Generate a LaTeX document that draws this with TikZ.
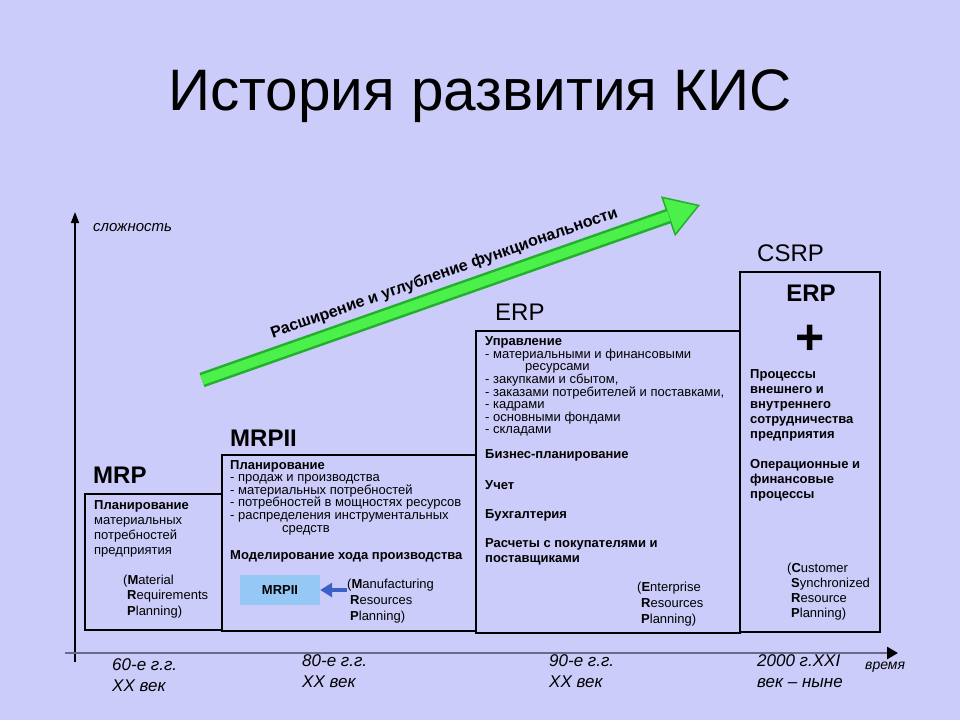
\documentclass[tikz,border=0pt]{standalone}
\usepackage{fontspec}
\setmainfont{Liberation Sans}
\usetikzlibrary{arrows.meta,calc}
\definecolor{slidebg}{RGB}{204,204,250}
\definecolor{axisgray}{RGB}{105,105,140}
\definecolor{growdark}{RGB}{35,175,45}
\definecolor{growlight}{RGB}{75,240,75}
\definecolor{tagblue}{RGB}{150,200,245}
\definecolor{pointblue}{RGB}{60,95,200}
\tikzset{
  era/.style={draw=black, line width=1.6pt},
  eratitle/.style={anchor=west, inner sep=0pt, font=\fontsize{24}{28}\selectfont},
  boxtext/.style={anchor=north west, inner sep=0pt, align=left},
  period/.style={anchor=north west, inner sep=0pt, align=left, font=\fontsize{17}{21}\selectfont\itshape},
}
\begin{document}
\begin{tikzpicture}[x=1pt,y=-1pt]
		%%%%% START %%%%%
		
		\fill[slidebg] (0,0) rectangle (960,720);
		\useasboundingbox (0,0) rectangle (960,720);
		
		\node[font=\fontsize{58.5}{62}\selectfont] (title) at (480,96) {История развития КИС};
		
		% axes
		\coordinate (ytop) at (75,212);
		\coordinate (ybot) at (75,662);
		\coordinate (xbeg) at (65,653);
		\coordinate (xend) at (898,653);
		\draw[line width=1.4pt, -{Triangle[length=11pt,width=8pt]}] (ybot) -- (ytop);
		\draw[axisgray, line width=2.6pt, -{Triangle[length=11pt,width=12pt,color=black]}] (xbeg) -- (xend);
		\node[anchor=west, inner sep=0pt, font=\fontsize{15}{17}\selectfont\itshape] (ylabel) at (93,228) {сложность};
		\node[anchor=west, inner sep=0pt, font=\fontsize{14}{16}\selectfont\itshape] (xlabel) at (865,667) {время};
		
		% green arrow
		\coordinate (growstart) at (202,380);
		\coordinate (growend) at (700,205);
		\draw[growdark, line width=15pt, -{Triangle[length=34pt,width=42pt,fill=growlight,line width=1.5pt]}] (growstart) -- (growend);
		\draw[growlight, line width=10pt, shorten >=33pt] (growstart) -- (growend);
		\path (growstart) -- (growend) node[pos=0.5, sloped, above=9pt, font=\fontsize{16}{18}\selectfont\bfseries] (growlabel) {Расширение и углубление функциональности};
		
		% boxes
		\draw[era] (85,494) rectangle (222,630);
		\draw[era] (222,455) rectangle (476,631);
		\draw[era] (476,331) rectangle (740,633);
		\draw[era] (740,272) rectangle (880,632);
		
		\node[eratitle, font=\fontsize{24}{28}\selectfont\bfseries] (mrp) at (93,475) {MRP};
		\node[eratitle, font=\fontsize{24}{28}\selectfont\bfseries] (mrpii) at (230,438) {MRPII};
		\node[eratitle] (erp) at (495,312) {ERP};
		\node[eratitle] (csrp) at (757,253) {CSRP};
		
		% MRP
		\node[boxtext, font=\fontsize{13}{15}\selectfont] (mrptext) at (94,500.5) {\textbf{Планирование}\\материальных\\потребностей\\предприятия};
		\node[boxtext, font=\fontsize{13}{15.5}\selectfont] (mrpeng) at (123,574.5) {(\textbf{M}aterial\\\hspace*{4pt}\textbf{R}equirements\\\hspace*{4pt}\textbf{P}lanning)};
		
		% MRPII
		\node[boxtext, font=\fontsize{13}{12.6}\selectfont] (mrpiitext) at (230,460) {\textbf{Планирование}\\- продаж и производства\\- материальных потребностей\\- потребностей в мощностях ресурсов\\- распределения инструментальных\\\hspace*{52pt}средств};
		\node[boxtext, font=\fontsize{13}{14}\selectfont\bfseries] (model) at (230,550) {Моделирование хода производства};
		\node[fill=tagblue, minimum width=80pt, minimum height=30pt, font=\fontsize{13}{15}\selectfont\bfseries] (mrpiitag) at (280,590) {MRPII};
		\node[boxtext, font=\fontsize{13}{16}\selectfont] (manuf) at (347,579) {(\textbf{M}anufacturing\\\hspace*{3pt}\textbf{R}esources\\\hspace*{3pt}\textbf{P}lanning)};
		\draw[pointblue, line width=4pt, -{Triangle[length=12pt,width=14pt]}] (manuf.west |- mrpiitag.east) -- (mrpiitag.east);
		
		% ERP
		\node[boxtext, font=\fontsize{13}{12}\selectfont] (erptext) at (485,336) {\textbf{Управление}\\- материальными и финансовыми\\\hspace*{40pt}ресурсами\\- закупками и сбытом,\\- заказами потребителей и поставками,\\- кадрами\\- основными фондами\\- складами};
		\node[boxtext, font=\fontsize{13}{15}\selectfont\bfseries] (bizplan) at (485,449) {Бизнес-планирование};
		\node[boxtext, font=\fontsize{13}{15}\selectfont\bfseries] (uchet) at (485,480) {Учет};
		\node[boxtext, font=\fontsize{13}{15}\selectfont\bfseries] (buh) at (485,509) {Бухгалтерия};
		\node[boxtext, font=\fontsize{13}{15}\selectfont\bfseries] (rasch) at (485,538) {Расчеты с покупателями и\\поставщиками};
		\node[boxtext, font=\fontsize{13}{16}\selectfont] (erpeng) at (637,582) {(\textbf{E}nterprise\\\hspace*{4pt}\textbf{R}esources\\\hspace*{4pt}\textbf{P}lanning)};
		
		% CSRP
		\node[inner sep=0pt, font=\fontsize{24}{28}\selectfont\bfseries] (erpinner) at (811,293) {ERP};
		\node[inner sep=0pt, font=\fontsize{50}{50}\selectfont\bfseries] (plus) at (810,340) {+};
		\node[boxtext, font=\fontsize{13}{15}\selectfont\bfseries] (csrptext) at (750,369) {Процессы\\внешнего и\\внутреннего\\сотрудничества\\предприятия};
		\node[boxtext, font=\fontsize{13}{15}\selectfont\bfseries] (csrpops) at (750,459) {Операционные и\\финансовые\\процессы};
		\node[boxtext, font=\fontsize{13}{15}\selectfont] (csrpeng) at (787,563) {(\textbf{C}ustomer\\\hspace*{4pt}\textbf{S}ynchronized\\\hspace*{4pt}\textbf{R}esource\\\hspace*{4pt}\textbf{P}lanning)};
		
		% periods
		\node[period] (p60) at (112,658) {60-е г.г.\\XX век};
		\node[period] (p80) at (302,654) {80-е г.г.\\XX век};
		\node[period] (p90) at (549,654) {90-е г.г.\\XX век};
		\node[period] (p2000) at (757,654) {2000 г.XXI\\век – ныне};
		
		%%%%% END %%%%%
	\end{tikzpicture}
\end{document}
